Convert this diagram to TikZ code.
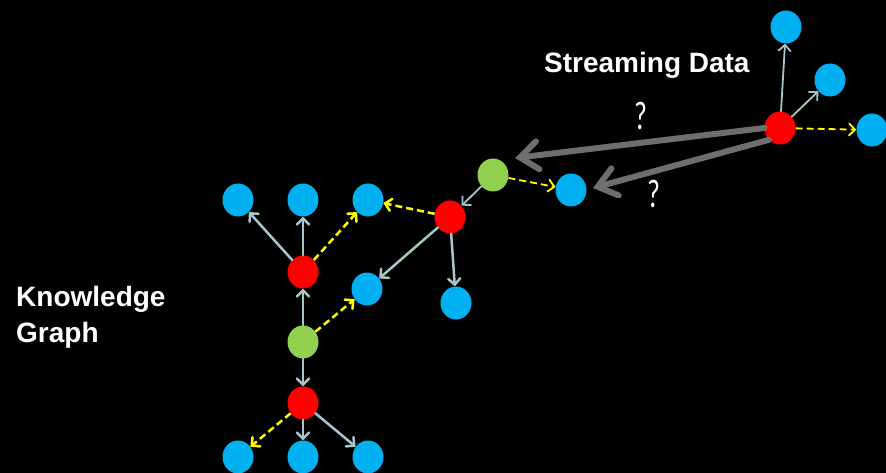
\documentclass[tikz,border=0pt]{standalone}
\usepackage{fontspec}
\setmainfont{Liberation Sans}
\newfontfamily\qfont{Carlito}
\usetikzlibrary{arrows.meta,shapes.geometric}

\definecolor{nodeblue}{HTML}{00B0F0}
\definecolor{nodered}{HTML}{FF0000}
\definecolor{nodegreen}{HTML}{92D050}
\definecolor{linkgrey}{HTML}{A9C5CC}
\definecolor{linkyellow}{HTML}{FFFF00}
\definecolor{querygrey}{HTML}{6E6E6E}

\tikzset{
  vertex/.style={ellipse, minimum width=31pt, minimum height=33pt, inner sep=0pt},
  ent/.style={vertex, fill=nodeblue},
  rel/.style={vertex, fill=nodered},
  hub/.style={vertex, fill=nodegreen},
  link/.style={draw=linkgrey, line width=2.5pt, line cap=round,
    -{Straight Barb[length=6pt,width=12pt,line cap=round]}},
  infer/.style={draw=linkyellow, line width=2.5pt, dash pattern=on 7pt off 4pt,
    -{Straight Barb[length=6pt,width=12pt,line cap=round]}},
  thinlink/.style={link, line width=1.8pt},
  thininfer/.style={infer, line width=1.8pt},
  query/.style={draw=querygrey, line width=6pt, line cap=round,
    -{Straight Barb[length=18pt,width=28pt,line cap=round]}},
  label/.style={text=white, font=\bfseries\fontsize{28}{34}\selectfont, inner sep=0pt},
  qmark/.style={text=white, font=\qfont\fontsize{40}{40}\selectfont, inner sep=0pt}
}

\begin{document}
\begin{tikzpicture}[x=1pt,y=-1pt]
  \fill[black] (0,0) rectangle (886,473);
  \useasboundingbox (0,0) rectangle (886,473);

  % knowledge graph
  \node[ent] (b1) at (238,200) {};
  \node[ent] (b2) at (303,200) {};
  \node[ent] (b3) at (368,200) {};
  \node[rel] (r1) at (303,272) {};
  \node[ent] (b4) at (367,289) {};
  \node[hub] (g1) at (303,342) {};
  \node[rel] (r2) at (303,403) {};
  \node[ent] (b5) at (238,457) {};
  \node[ent] (b6) at (303,457) {};
  \node[ent] (b7) at (368,457) {};
  \node[rel] (r3) at (450,217) {};
  \node[ent] (b8) at (456,303) {};
  \node[hub] (g2) at (493,175) {};
  \node[ent] (b9) at (571,190) {};

  % streaming data
  \node[rel] (r4) at (780,128) {};
  \node[ent] (s1) at (786,27) {};
  \node[ent] (s2) at (830,80) {};
  \node[ent] (s3) at (872,130) {};

  \draw[link] (r1) -- (b1);
  \draw[link] (r1) -- (b2);
  \draw[infer] (r1) -- (b3);
  \draw[link] (g1) -- (r1);
  \draw[infer] (g1) -- (b4);
  \draw[link] (g1) -- (r2);
  \draw[infer] (r2) -- (b5);
  \draw[link] (r2) -- (b6);
  \draw[link] (r2) -- (b7);
  \draw[infer] (r3) -- (b3);
  \draw[link] (r3) -- (b4);
  \draw[link] (r3) -- (b8);
  \draw[thinlink] (g2) -- (r3);
  \draw[thininfer] (g2) -- (b9);

  \draw[thinlink] (r4) -- (s1);
  \draw[thinlink] (r4) -- (s2);
  \draw[thininfer] (r4) -- (s3);

  % candidate links from the stream into the graph
  \coordinate (q1) at (515,158);
  \coordinate (q2) at (593,188);
  \draw[query] (r4.west) -- (q1);
  \draw[query] (r4.south west) -- (q2);

  \node[qmark] (qa) at (641,116) {\scalebox{0.7}[1]{?}};
  \node[qmark] (qb) at (654,194) {\scalebox{0.7}[1]{?}};

  \node[label, anchor=base west] (sd) at (544,73) {Streaming Data};
  \node[label, anchor=base west] (kg1) at (16,306) {Knowledge};
  \node[label, anchor=base west] (kg2) at (16,342) {Graph};
\end{tikzpicture}
\end{document}
